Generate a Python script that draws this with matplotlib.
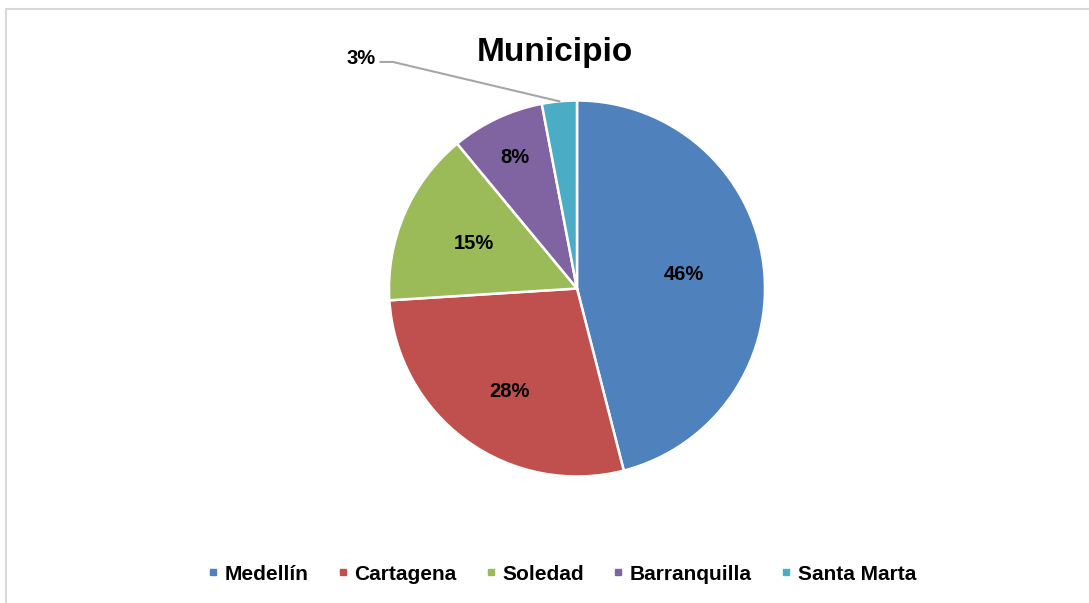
import numpy as np
import matplotlib
matplotlib.use("Agg")
import matplotlib.pyplot as plt
from matplotlib.patches import Rectangle
from matplotlib.lines import Line2D

plt.rcParams['font.family'] = ['Liberation Sans', 'DejaVu Sans']

municipios = ["Medellín", "Cartagena", "Soledad", "Barranquilla", "Santa Marta"]
porcentajes = [46, 28, 15, 8, 3]
colores = ["#4F81BD", "#C0504D", "#9BBB59", "#8064A2", "#4BACC6"]

W, H = 1089, 603
fig = plt.figure(figsize=(W / 100, H / 100), dpi=100)

# pie centred at (577, 288) px, radius 188 px
cx, cy, r = 577, 288.5, 188
ax = fig.add_axes([(cx - r) / W, (H - cy - r) / H, 2 * r / W, 2 * r / H])

wedges, _ = ax.pie(porcentajes, colors=colores, startangle=90, counterclock=False,
                   radius=1, wedgeprops=dict(edgecolor="white", linewidth=1.8))
ax.set_xlim(-1, 1)
ax.set_ylim(-1, 1)
ax.set_aspect("equal")
ax.axis("off")

# label placement tweaks (radius, angle offset in degrees)
label_pos = [(0.573, 0), (0.656, 3), (0.6, 0), (0.77, 0)]
for w, p, (lr, dt) in zip(wedges, porcentajes, label_pos):
    ang = np.deg2rad((w.theta1 + w.theta2) / 2 + dt)
    ax.text(lr * np.cos(ang), lr * np.sin(ang), f"{p}%", ha="center", va="center",
            fontsize=14.5, fontweight="bold", color="black")

# small slice label with leader line
w = wedges[-1]
ang = np.deg2rad((w.theta1 + w.theta2) / 2)
px, py = np.cos(ang), np.sin(ang)
ax.plot([px, -0.979, -1.045], [py, 1.205, 1.205], color="#a6a6a6", lw=1.5, clip_on=False)
ax.text(-1.07, 1.226, f"{porcentajes[-1]}%", ha="right", va="center",
        fontsize=14.5, fontweight="bold", color="black")

fig.text(554.5 / W, 1 - 53 / H, "Municipio", ha="center", va="center",
         fontsize=24, fontweight="bold")

handles = [Line2D([], [], marker="s", linestyle="none", markersize=5,
                  markerfacecolor=c, markeredgecolor=c) for c in colores]
fig.legend(handles, municipios, loc="center", bbox_to_anchor=(562 / W, 1 - 574 / H),
           ncol=5, frameon=False, prop=dict(size=15, weight="bold"),
           handlelength=0.5, handletextpad=0.3, columnspacing=1.4, borderpad=0)

fig.add_artist(Rectangle((6 / W, -0.05), 1.2, (H - 9) / H + 0.05, transform=fig.transFigure,
                         fill=False, edgecolor="#d9d9d9", linewidth=1.5))

fig.savefig("out.png", dpi=100, facecolor="white")
